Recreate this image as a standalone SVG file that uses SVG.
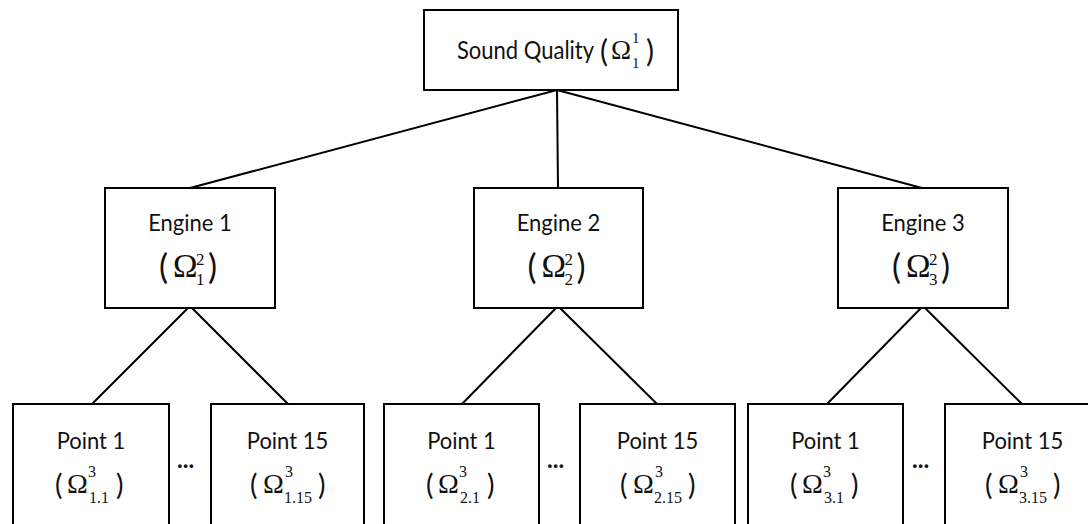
<svg xmlns="http://www.w3.org/2000/svg" width="1088" height="524" viewBox="0 0 1088 524">
<style>
.box{fill:#fff;stroke:#000;stroke-width:2}
.ln{stroke:#000;stroke-width:2;fill:none}
.t{font-family:Lato,"Liberation Sans",sans-serif;font-size:22px;fill:#111}
.c{text-anchor:middle}
.m{font-family:"Liberation Serif",serif;fill:#111}
.p{font-family:Lato,"Liberation Sans",sans-serif}
.dots{font-family:Lato,"Liberation Sans",sans-serif;font-size:24px;fill:#111;font-weight:bold}
</style>
<rect width="1088" height="524" fill="#fff"/>
<g id="connectors">
<path class="ln" d="M557 90 L190 188 M557 90 L558 188 M557 90 L922 188"/>
<path class="ln" d="M190 306 L92 404 M190 306 L288 404"/>
<path class="ln" d="M558 306 L462 404 M558 306 L657 404"/>
<path class="ln" d="M923 306 L827 404 M923 306 L1022 404"/>
</g>
<g id="root">
<rect class="box" x="424" y="10" width="254" height="80"/>
<text class="t" transform="translate(457 59) scale(1 1.15)">Sound Quality</text>
<text class="m" y="62"><tspan class="p" x="600" font-size="30">(</tspan><tspan x="611" y="59" font-size="27">Ω</tspan><tspan x="632" y="43" font-size="15">1</tspan><tspan x="632" y="68" font-size="15">1</tspan><tspan class="p" x="646" y="62" font-size="30">)</tspan></text>
</g>
<g id="engine1">
<rect class="box" x="105" y="188" width="170" height="120"/>
<text class="t c" transform="translate(190 231) scale(1 1.08)">Engine 1</text>
<text class="m" y="279"><tspan class="p" x="159" font-size="34">(</tspan><tspan x="173" y="277" font-size="33">Ω</tspan><tspan x="196" y="265" font-size="17">2</tspan><tspan x="196" y="285" font-size="17">1</tspan><tspan class="p" x="208" y="279" font-size="34">)</tspan></text>
</g>
<g id="engine2">
<rect class="box" x="474" y="188" width="169" height="120"/>
<text class="t c" transform="translate(558.5 231) scale(1 1.08)">Engine 2</text>
<text class="m" y="279"><tspan class="p" x="527.5" font-size="34">(</tspan><tspan x="541.5" y="277" font-size="33">Ω</tspan><tspan x="564.5" y="265" font-size="17">2</tspan><tspan x="564.5" y="285" font-size="17">2</tspan><tspan class="p" x="576.5" y="279" font-size="34">)</tspan></text>
</g>
<g id="engine3">
<rect class="box" x="838" y="188" width="170" height="120"/>
<text class="t c" transform="translate(923 231) scale(1 1.08)">Engine 3</text>
<text class="m" y="279"><tspan class="p" x="892" font-size="34">(</tspan><tspan x="906" y="277" font-size="33">Ω</tspan><tspan x="929" y="265" font-size="17">2</tspan><tspan x="929" y="285" font-size="17">3</tspan><tspan class="p" x="941" y="279" font-size="34">)</tspan></text>
</g>
<g id="p11">
<rect class="box" x="13" y="404" width="156" height="130"/>
<text class="t c" transform="translate(91 449) scale(1 1.08)">Point 1</text>
<text class="m" y="495"><tspan class="p" x="55" font-size="28">(</tspan><tspan x="67" y="493" font-size="28">Ω</tspan><tspan x="88" y="477" font-size="16">3</tspan><tspan x="89" y="503" font-size="16">1.1</tspan><tspan class="p" x="116" y="495" font-size="28">)</tspan></text>
</g>
<g id="p115">
<rect class="box" x="211" y="404" width="153" height="130"/>
<text class="t c" transform="translate(287.5 449) scale(1 1.08)">Point 15</text>
<text class="m" y="495"><tspan class="p" x="250" font-size="28">(</tspan><tspan x="263" y="493" font-size="28">Ω</tspan><tspan x="285" y="477" font-size="16">3</tspan><tspan x="284" y="503" font-size="16">1.15</tspan><tspan class="p" x="318" y="495" font-size="28">)</tspan></text>
</g>
<g id="p21">
<rect class="box" x="384" y="404" width="155" height="130"/>
<text class="t c" transform="translate(461.5 449) scale(1 1.08)">Point 1</text>
<text class="m" y="495"><tspan class="p" x="426" font-size="28">(</tspan><tspan x="438" y="493" font-size="28">Ω</tspan><tspan x="459" y="477" font-size="16">3</tspan><tspan x="460" y="503" font-size="16">2.1</tspan><tspan class="p" x="487" y="495" font-size="28">)</tspan></text>
</g>
<g id="p215">
<rect class="box" x="580" y="404" width="155" height="130"/>
<text class="t c" transform="translate(657.5 449) scale(1 1.08)">Point 15</text>
<text class="m" y="495"><tspan class="p" x="620" font-size="28">(</tspan><tspan x="633" y="493" font-size="28">Ω</tspan><tspan x="655" y="477" font-size="16">3</tspan><tspan x="654" y="503" font-size="16">2.15</tspan><tspan class="p" x="688" y="495" font-size="28">)</tspan></text>
</g>
<g id="p31">
<rect class="box" x="748" y="404" width="155" height="130"/>
<text class="t c" transform="translate(825.5 449) scale(1 1.08)">Point 1</text>
<text class="m" y="495"><tspan class="p" x="790" font-size="28">(</tspan><tspan x="802" y="493" font-size="28">Ω</tspan><tspan x="823" y="477" font-size="16">3</tspan><tspan x="824" y="503" font-size="16">3.1</tspan><tspan class="p" x="851" y="495" font-size="28">)</tspan></text>
</g>
<g id="p315">
<rect class="box" x="945" y="404" width="160" height="130"/>
<text class="t c" transform="translate(1022.5 449) scale(1 1.08)">Point 15</text>
<text class="m" y="495"><tspan class="p" x="985" font-size="28">(</tspan><tspan x="998" y="493" font-size="28">Ω</tspan><tspan x="1020" y="477" font-size="16">3</tspan><tspan x="1019" y="503" font-size="16">3.15</tspan><tspan class="p" x="1053" y="495" font-size="28">)</tspan></text>
</g>
<g id="ellipses">
<text class="dots" x="177" y="468">...</text>
<text class="dots" x="547" y="468">...</text>
<text class="dots" x="912" y="468">...</text>
</g>
</svg>
